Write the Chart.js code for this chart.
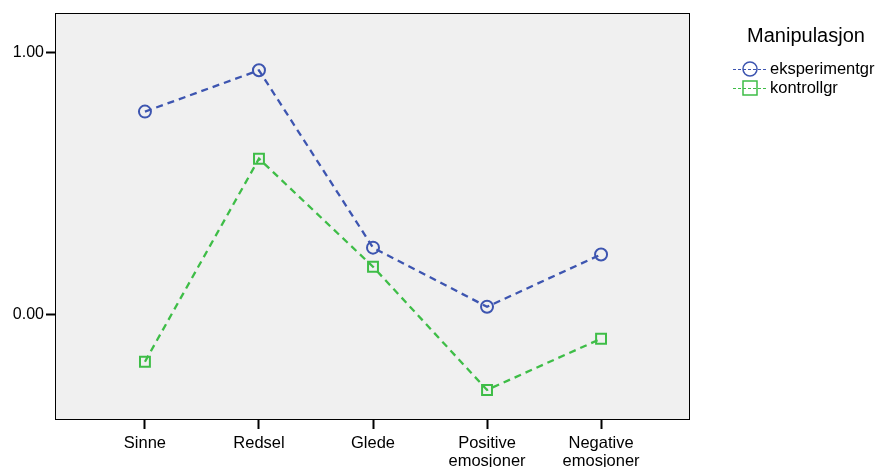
<!DOCTYPE html>
<html lang="no">
<head>
    <meta charset="UTF-8">
    <title>Manipulasjon</title>
    <style>
        body {
            margin: 0;
            padding: 0;
            background: #ffffff;
        }
        #chart {
            display: block;
        }
    </style>
    <script src="https://cdn.jsdelivr.net/npm/chart.js"></script>
</head>
<body>
    <canvas id="chart" width="878" height="467"></canvas>

    <script>
        // data
        const categories = [['Sinne'], ['Redsel'], ['Glede'], ['Positive', 'emosjoner'], ['Negative', 'emosjoner']];
        const seriesNames = ['eksperimentgr', 'kontrollgr'];
        const eksperimentgr = [0.775, 0.933, 0.255, 0.029, 0.229];
        const kontrollgr = [-0.181, 0.595, 0.182, -0.289, -0.093];
        const yTicks = [0, 1];
        const legendTitle = 'Manipulasjon';

        const FONT = '"Liberation Sans", Arial, sans-serif';
        const BLUE = '#3d55b0';
        const GREEN = '#3ebd47';

        function points(values) {
            return values.map((v, i) => ({ x: i, y: v }));
        }

        // grey plot background + black frame
        const plotFrame = {
            id: 'plotFrame',
            beforeDraw(chart) {
                const a = chart.chartArea;
                const ctx = chart.ctx;
                ctx.save();
                ctx.fillStyle = '#f0f0f0';
                ctx.fillRect(a.left, a.top, a.right - a.left, a.bottom - a.top);
                ctx.restore();
            },
            afterDraw(chart) {
                const a = chart.chartArea;
                const ctx = chart.ctx;
                ctx.save();
                ctx.strokeStyle = '#000';
                ctx.lineWidth = 1;
                ctx.strokeRect(Math.round(a.left) - 0.5, Math.round(a.top) + 0.5,
                    Math.round(a.right - a.left), Math.round(a.bottom - a.top));
                ctx.restore();
            }
        };

        // legend on the right, SPSS style
        const sideLegend = {
            id: 'sideLegend',
            afterDraw(chart) {
                const ctx = chart.ctx;
                ctx.save();
                ctx.fillStyle = '#000';
                ctx.font = '20px ' + FONT;
                ctx.textAlign = 'center';
                ctx.textBaseline = 'middle';
                ctx.fillText(legendTitle, 806, 36);

                chart.data.datasets.forEach((ds, i) => {
                    const y = 69 + i * 19;
                    ctx.strokeStyle = ds.borderColor;
                    ctx.lineWidth = 1;
                    ctx.setLineDash([3, 2]);
                    ctx.beginPath();
                    ctx.moveTo(733, y + 0.5);
                    ctx.lineTo(767, y + 0.5);
                    ctx.stroke();
                    ctx.setLineDash([]);
                    ctx.lineWidth = 1.5;
                    ctx.beginPath();
                    if (ds.pointStyle === 'circle') {
                        ctx.arc(750, y, 7, 0, Math.PI * 2);
                    } else {
                        ctx.rect(743, y - 7, 14, 14);
                    }
                    ctx.stroke();

                    ctx.fillStyle = '#000';
                    ctx.font = '16.5px ' + FONT;
                    ctx.textAlign = 'left';
                    ctx.fillText(ds.label, 770, y);
                });
                ctx.restore();
            }
        };

        const ctx = document.getElementById('chart').getContext('2d');
        new Chart(ctx, {
            type: 'line',
            data: {
                datasets: [
                    {
                        label: seriesNames[0],
                        data: points(eksperimentgr),
                        borderColor: BLUE,
                        borderWidth: 2.3,
                        borderDash: [7, 5],
                        pointStyle: 'circle',
                        pointRadius: 6,
                        pointBorderWidth: 2,
                        pointBorderColor: BLUE,
                        pointBackgroundColor: 'rgba(0,0,0,0)',
                        fill: false,
                        tension: 0
                    },
                    {
                        label: seriesNames[1],
                        data: points(kontrollgr),
                        borderColor: GREEN,
                        borderWidth: 2.3,
                        borderDash: [7, 5],
                        pointStyle: 'rect',
                        pointRadius: 7,
                        pointBorderWidth: 2,
                        pointBorderColor: GREEN,
                        pointBackgroundColor: 'rgba(0,0,0,0)',
                        fill: false,
                        tension: 0
                    }
                ]
            },
            options: {
                responsive: false,
                animation: false,
                devicePixelRatio: 1,
                layout: {
                    padding: { top: 13, right: 188, left: 0, bottom: 0 }
                },
                plugins: {
                    legend: { display: false },
                    tooltip: { enabled: false }
                },
                scales: {
                    x: {
                        type: 'linear',
                        min: -0.78,
                        max: 4.78,
                        afterBuildTicks: s => { s.ticks = categories.map((c, i) => ({ value: i })); },
                        afterFit: s => { s.height = 48; },
                        ticks: {
                            autoSkip: false,
                            maxRotation: 0,
                            padding: 5,
                            color: '#000',
                            font: { family: FONT, size: 16.5, lineHeight: 1.1 },
                            callback: v => categories[v]
                        },
                        grid: {
                            drawOnChartArea: false,
                            drawTicks: true,
                            tickLength: 10,
                            tickWidth: 2,
                            color: '#000'
                        },
                        border: { display: false }
                    },
                    y: {
                        type: 'linear',
                        min: -0.40,
                        max: 1.152,
                        afterBuildTicks: s => { s.ticks = yTicks.map(v => ({ value: v })); },
                        afterFit: s => { s.width = 56; },
                        ticks: {
                            padding: 2,
                            color: '#000',
                            font: { family: FONT, size: 16 },
                            callback: v => v.toFixed(2)
                        },
                        grid: {
                            drawOnChartArea: false,
                            drawTicks: true,
                            tickLength: 10,
                            tickWidth: 2,
                            color: '#000'
                        },
                        border: { display: false }
                    }
                }
            },
            plugins: [plotFrame, sideLegend]
        });
    </script>
</body>
</html>
